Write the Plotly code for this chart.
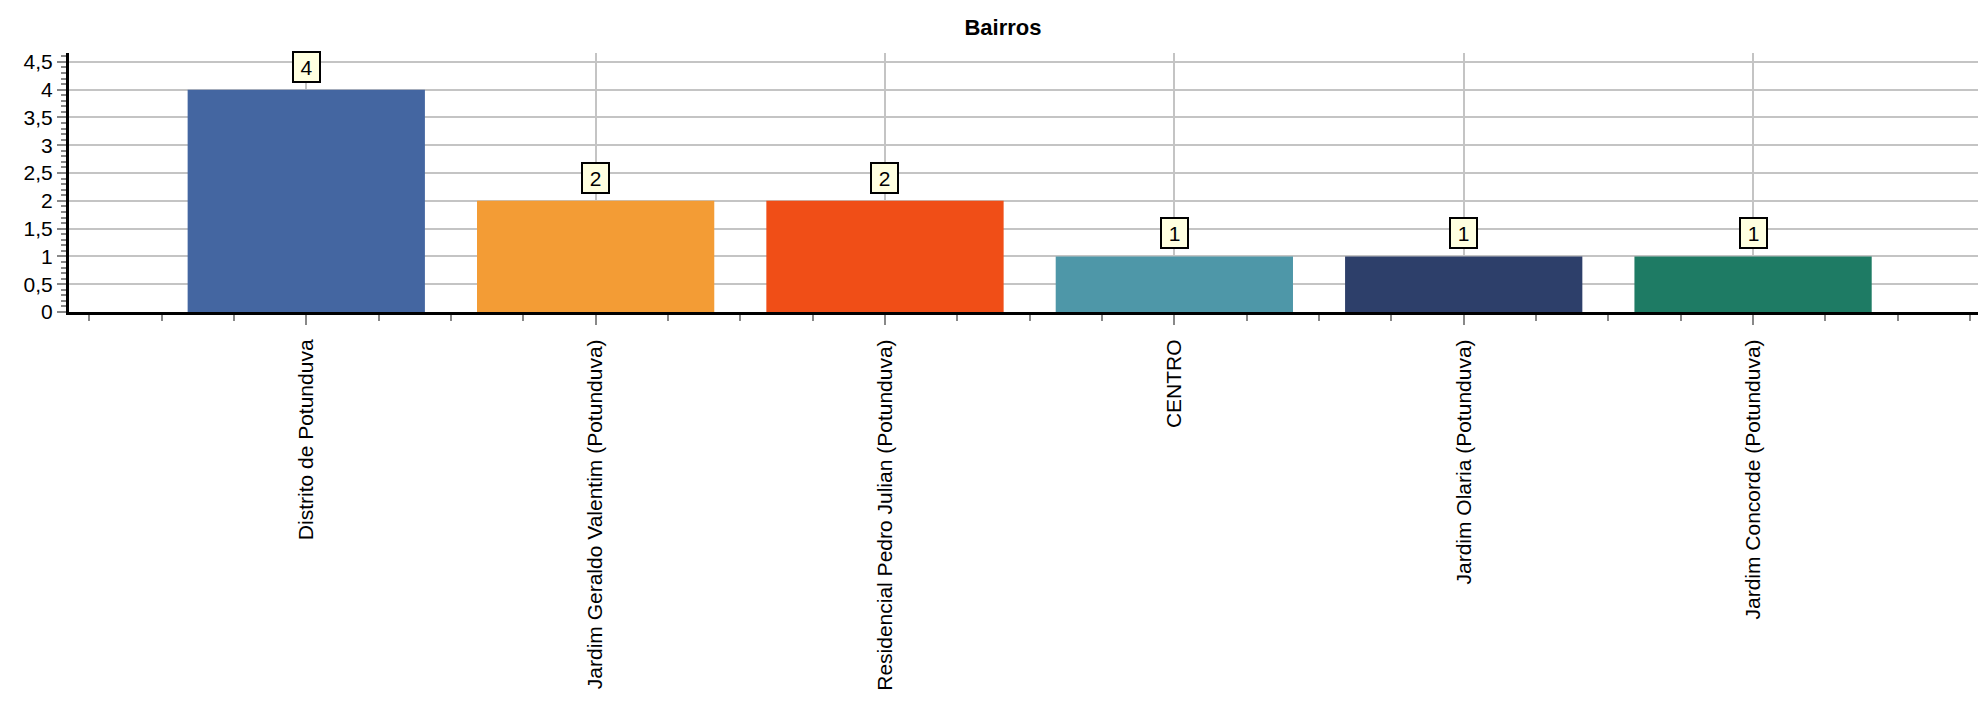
import plotly.graph_objects as go

categories = ["Distrito de Potunduva", "Jardim Geraldo Valentim (Potunduva)",
              "Residencial Pedro Julian (Potunduva)", "CENTRO",
              "Jardim Olaria (Potunduva)", "Jardim Concorde (Potunduva)"]
values = [4, 2, 2, 1, 1, 1]
colors = ["#4466A1", "#F39C35", "#F04E17", "#4E97A8", "#2D3F6A", "#1E7B64"]
y_ticks = [0, 0.5, 1, 1.5, 2, 2.5, 3, 3.5, 4, 4.5]
y_labels = ["0", "0,5", "1", "1,5", "2", "2,5", "3", "3,5", "4", "4,5"]
title = "Bairros"

xpos = list(range(len(categories)))
FONT = "Liberation Sans, Arial"

# page body has an 8px default margin; figure is sized to fill the rest
W, H = 1978, 695

fig = go.Figure()
fig.add_trace(go.Bar(x=xpos, y=values, marker=dict(color=colors, line=dict(width=0)),
                     width=0.82, showlegend=False, hoverinfo="x+y"))

for xp, v in zip(xpos, values):
    fig.add_annotation(x=xp, y=v, text=str(v), showarrow=False, yanchor="bottom",
                       yshift=7, bgcolor="#FFFFE0", bordercolor="black", borderwidth=2,
                       borderpad=1.5, width=22, height=25,
                       font=dict(family=FONT, size=21, color="black"))

fig.update_layout(
    width=W, height=H,
    margin=dict(l=61, r=0, t=45, b=391),
    paper_bgcolor="white", plot_bgcolor="white",
    title=dict(text="<b>" + title + "</b>", x=995 / W, xref="container", xanchor="center",
               y=1 - 19 / H, yref="container", yanchor="middle",
               font=dict(family=FONT, size=22, color="black")),
    font=dict(family=FONT, size=21, color="black"),
)

fig.update_xaxes(
    range=[-0.82, 5.805], automargin=False,
    tickmode="array", tickvals=xpos, ticktext=categories, tickangle=-90,
    showgrid=True, gridcolor="#C4C4C4", gridwidth=1.5,
    showline=True, linecolor="black", linewidth=3,
    ticks="outside", ticklen=10, tickwidth=1.5, tickcolor="#888888",
    minor=dict(dtick=0.25, tick0=0, ticks="outside", ticklen=6, tickwidth=1.5,
               tickcolor="#888888", showgrid=False),
    zeroline=False, ticklabelstandoff=6,
    tickfont=dict(family=FONT, size=21, color="black"),
)
fig.update_yaxes(
    range=[0, 4.66], automargin=False,
    tickmode="array", tickvals=y_ticks, ticktext=y_labels,
    showgrid=True, gridcolor="#C4C4C4", gridwidth=1.5,
    showline=True, linecolor="black", linewidth=3,
    ticks="outside", ticklen=9, tickwidth=1.5, tickcolor="#888888",
    minor=dict(dtick=0.1, tick0=0, ticks="outside", ticklen=5, tickwidth=1.5,
               tickcolor="#888888", showgrid=False),
    zeroline=False,
    tickfont=dict(family=FONT, size=21, color="black"),
)

fig.write_html("out.html")
